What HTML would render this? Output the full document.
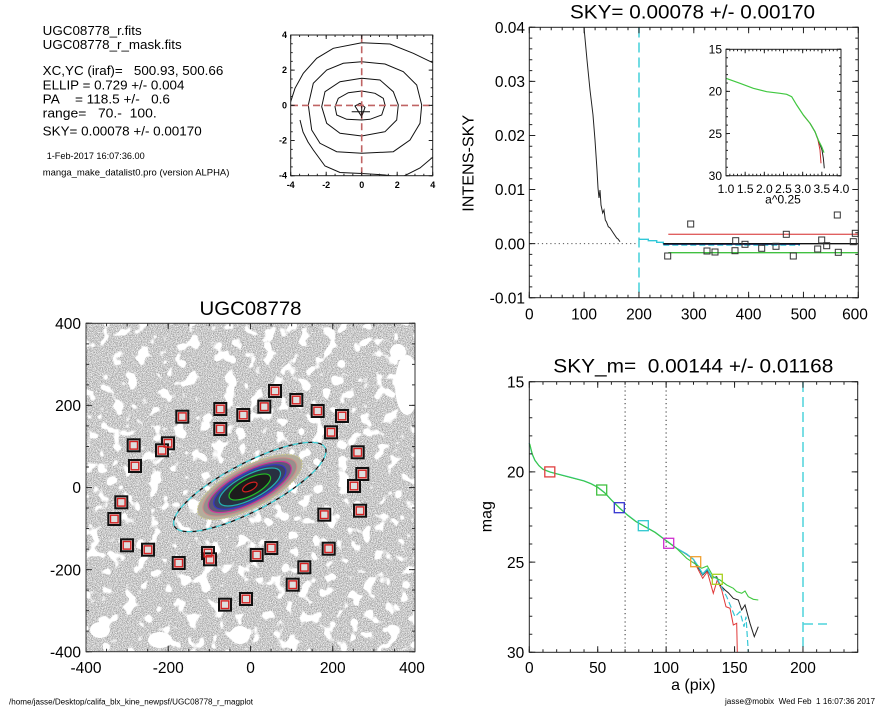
<!DOCTYPE html>
<html><head><meta charset="utf-8"><style>
html,body{margin:0;padding:0;background:#fff;}
svg{display:block;}
text{font-family:"Liberation Sans",Arial,sans-serif;fill:#000;}
</style></head><body>
<svg width="885" height="708" viewBox="0 0 885 708" xmlns="http://www.w3.org/2000/svg">
<defs>
<filter id="tex" x="0" y="0" width="1" height="1" color-interpolation-filters="sRGB">
<feTurbulence type="fractalNoise" baseFrequency="1.2" numOctaves="1" seed="4" result="fine"/>
<feColorMatrix in="fine" type="matrix" values="1.0 0 0 0 0.29  1.0 0 0 0 0.29  1.0 0 0 0 0.29  0 0 0 0 1" result="grey"/>
<feTurbulence type="fractalNoise" baseFrequency="0.08" numOctaves="2" seed="9" result="low"/>
<feColorMatrix in="low" type="matrix" values="0 0 0 0 1  0 0 0 0 1  0 0 0 0 1  14 0 0 0 -8.1" result="blobs"/>
<feComposite in="blobs" in2="grey" operator="over"/>
</filter>
<clipPath id="cbox"><rect x="290.7" y="35" width="142" height="140.7"/></clipPath>
<clipPath id="ibox"><rect x="86" y="323.3" width="329" height="328.4"/></clipPath>
</defs>
<rect width="885" height="708" fill="#fff"/>

<!-- ===== Top-left text ===== -->
<g font-size="13">
<text x="42.7" y="35" textLength="99" lengthAdjust="spacingAndGlyphs">UGC08778_r.fits</text>
<text x="42.7" y="49" textLength="139" lengthAdjust="spacingAndGlyphs">UGC08778_r_mask.fits</text>
<text x="42.7" y="75" textLength="180.6" lengthAdjust="spacingAndGlyphs">XC,YC (iraf)=&#160;&#160; 500.93, 500.66</text>
<text x="42.7" y="89.3" textLength="141.7" lengthAdjust="spacingAndGlyphs">ELLIP = 0.729 +/- 0.004</text>
<text x="42.7" y="103.7" textLength="127.3" lengthAdjust="spacingAndGlyphs">PA&#160;&#160;&#160; = 118.5 +/-&#160;&#160; 0.6</text>
<text x="42.7" y="117.7" textLength="114" lengthAdjust="spacingAndGlyphs">range=&#160;&#160; 70.-&#160; 100.</text>
<text x="42.7" y="135.5" textLength="159" lengthAdjust="spacingAndGlyphs">SKY= 0.00078 +/- 0.00170</text>
</g>
<text x="46.7" y="159" font-size="9.5" textLength="98" lengthAdjust="spacingAndGlyphs">1-Feb-2017 16:07:36.00</text>
<text x="42.7" y="175.5" font-size="9.5" textLength="186.7" lengthAdjust="spacingAndGlyphs">manga_make_datalist0.pro (version ALPHA)</text>

<!-- ===== Contour plot ===== -->
<g clip-path="url(#cbox)" fill="none" stroke="#111" stroke-width="1">
<path d="M432.7,62.7 L413.3,53.3 L390,44 L361.7,42.7 L333.3,48.3 L316.7,58.3 L303.3,73.3 L295,88.3 L290.7,101.7"/>
<path d="M300,120 L303,132 L308,142 L313.3,150 L325,166 L340,172.5 L361.7,173.5 L385,175 L395,176.5"/>
<path d="M403,176.5 L420,168 L433,157"/>
<path d="M361.7,61.7 L385,64 L403.3,71.7 L416.7,85 L421.7,105 L420,123.3 L410,140 L393.3,151.7 L361.7,153.3 L336.7,151.7 L320,143.3 L311.7,130 L308.3,105 L313.3,83.3 L326.7,70 L343.3,63.3 Z"/>
<path d="M361.7,78.3 L380,80 L393.3,91.7 L398.3,105 L396.7,120 L385,131.7 L361.7,136 L340,133.3 L326.7,123.3 L321.7,106.7 L325,91.7 L340,81.7 Z"/>
<path d="M361.7,91 L375,93.3 L383.3,98.3 L385,105 L381.7,115 L370,119.3 L361.7,120 L346.7,119.3 L336.7,115 L335,106.7 L338.3,98.3 L348.3,92.7 Z"/>
<path d="M355,106 L360,103.3 L365,107.3 L361.7,116.7 Z"/>
</g>
<g stroke="#c06464" stroke-width="1.6" stroke-dasharray="7 4" fill="none">
<line x1="291" y1="105.4" x2="432.5" y2="105.4"/>
<line x1="361.7" y1="35.2" x2="361.7" y2="175.5"/>
</g>
<g stroke="#111" stroke-width="1">
<line x1="351.7" y1="111.7" x2="370" y2="111.7"/>
<line x1="361.7" y1="106" x2="361.7" y2="118"/>
</g>
<rect x="290.7" y="35" width="142" height="140.7" fill="none" stroke="#222" stroke-width="1"/>
<g stroke="#222">
<line x1="290.2" y1="174.7" x2="433.2" y2="174.7" stroke-width="2" stroke-dasharray="1 7.875"/>
<line x1="290.2" y1="173.7" x2="433.2" y2="173.7" stroke-width="4" stroke-dasharray="1 34.5"/>
<line x1="290.2" y1="36" x2="433.2" y2="36" stroke-width="2" stroke-dasharray="1 7.875"/>
<line x1="290.2" y1="37" x2="433.2" y2="37" stroke-width="4" stroke-dasharray="1 34.5"/>
<line x1="291.7" y1="34.5" x2="291.7" y2="176.2" stroke-width="2" stroke-dasharray="1 7.794"/>
<line x1="292.7" y1="34.5" x2="292.7" y2="176.2" stroke-width="4" stroke-dasharray="1 34.175"/>
<line x1="431.7" y1="34.5" x2="431.7" y2="176.2" stroke-width="2" stroke-dasharray="1 7.794"/>
<line x1="430.7" y1="34.5" x2="430.7" y2="176.2" stroke-width="4" stroke-dasharray="1 34.175"/>
</g>
<g font-size="9" font-weight="bold" text-anchor="end">
<text x="287" y="38">4</text>
<text x="287" y="73.2">2</text>
<text x="287" y="108.4">0</text>
<text x="287" y="143.5">-2</text>
<text x="287" y="178.7">-4</text>
</g>
<g font-size="9" font-weight="bold" text-anchor="middle">
<text x="290.7" y="188">-4</text>
<text x="326.2" y="188">-2</text>
<text x="361.7" y="188">0</text>
<text x="397.2" y="188">2</text>
<text x="432.7" y="188">4</text>
</g>

<!-- ===== Top-right plot ===== -->
<text x="692.5" y="18.5" font-size="19.5" text-anchor="middle" textLength="245" lengthAdjust="spacingAndGlyphs">SKY= 0.00078 +/- 0.00170</text>
<text transform="translate(473.5,163.3) rotate(-90)" font-size="16" text-anchor="middle" textLength="97" lengthAdjust="spacingAndGlyphs">INTENS-SKY</text>
<g font-size="15.5" text-anchor="end">
<text x="525" y="33">0.04</text>
<text x="525" y="87.1">0.03</text>
<text x="525" y="141.2">0.02</text>
<text x="525" y="195.2">0.01</text>
<text x="525" y="249.3">0.00</text>
<text x="525" y="303.4">-0.01</text>
</g>
<g font-size="15.5" text-anchor="middle">
<text x="529.3" y="319.5">0</text>
<text x="584.1" y="319.5">100</text>
<text x="639" y="319.5">200</text>
<text x="693.8" y="319.5">300</text>
<text x="748.6" y="319.5">400</text>
<text x="803.5" y="319.5">500</text>
<text x="855" y="319.5">600</text>
</g>
<!-- data -->
<line x1="529.3" y1="243.6" x2="639" y2="243.6" stroke="#555" stroke-width="1" stroke-dasharray="1.2 3"/>
<line x1="639" y1="27.5" x2="639" y2="297.5" stroke="#4fd3dc" stroke-width="1.6" stroke-dasharray="10 5"/>
<polyline fill="none" stroke="#222" stroke-width="1" points="584,27.5 587,60 590,90 593,115 595,140 597,170 598,188 599,198 600,190 601,205 602.7,213 604,210 605.3,220 606.5,222 608.3,226.7 610,228 612,231 613.3,233 616.7,238 618,239 620,241.7"/>
<polyline fill="none" stroke="#30c8d8" stroke-width="1.4" points="639,239.3 648.3,239.3 648.3,240.7 656.7,240.7 656.7,242.3 663.3,242.3 663.3,244.3"/>
<line x1="663.3" y1="245" x2="800" y2="245" stroke="#30c8d8" stroke-width="1.4" stroke-dasharray="6 3"/>
<line x1="663.3" y1="244.3" x2="800" y2="244.3" stroke="#202880" stroke-width="1.2"/>
<line x1="663.3" y1="243.7" x2="858.3" y2="243.7" stroke="#111" stroke-width="1.3"/>
<line x1="668.3" y1="234.3" x2="858.3" y2="234.3" stroke="#e06060" stroke-width="1.4"/>
<line x1="668.3" y1="252.7" x2="858.3" y2="252.7" stroke="#40c040" stroke-width="1.4"/>
<g fill="none" stroke="#333" stroke-width="1">
<rect x="664.7" y="253" width="6" height="6"/>
<rect x="687.7" y="221" width="6" height="6"/>
<rect x="704" y="248" width="6" height="6"/>
<rect x="712" y="249" width="6" height="6"/>
<rect x="732.7" y="237.7" width="6" height="6"/>
<rect x="732" y="247.7" width="6" height="6"/>
<rect x="742" y="241.3" width="6" height="6"/>
<rect x="758.7" y="245.3" width="6" height="6"/>
<rect x="773" y="243.3" width="6" height="6"/>
<rect x="783.3" y="231.3" width="6" height="6"/>
<rect x="790.3" y="253" width="6" height="6"/>
<rect x="814.7" y="246" width="6" height="6"/>
<rect x="818.7" y="237" width="6" height="6"/>
<rect x="823.7" y="242.7" width="6" height="6"/>
<rect x="834.3" y="212" width="6" height="6"/>
<rect x="835.3" y="249.3" width="6" height="6"/>
<rect x="850.3" y="238.7" width="6" height="6"/>
<rect x="852.3" y="230.3" width="6" height="6"/>
</g>
<rect x="529.3" y="27.3" width="329" height="270.4" fill="none" stroke="#222" stroke-width="1"/>
<g stroke="#222">
<line x1="528.8" y1="296.2" x2="859" y2="296.2" stroke-width="3" stroke-dasharray="1 9.967"/>
<line x1="528.8" y1="294.7" x2="859" y2="294.7" stroke-width="6" stroke-dasharray="1 53.83"/>
<line x1="528.8" y1="28.8" x2="859" y2="28.8" stroke-width="3" stroke-dasharray="1 9.967"/>
<line x1="528.8" y1="30.3" x2="859" y2="30.3" stroke-width="6" stroke-dasharray="1 53.83"/>
<line x1="530.8" y1="26.8" x2="530.8" y2="298.2" stroke-width="3" stroke-dasharray="1 9.816"/>
<line x1="532.3" y1="26.8" x2="532.3" y2="298.2" stroke-width="6" stroke-dasharray="1 53.08"/>
<line x1="856.8" y1="26.8" x2="856.8" y2="298.2" stroke-width="3" stroke-dasharray="1 9.816"/>
<line x1="855.3" y1="26.8" x2="855.3" y2="298.2" stroke-width="6" stroke-dasharray="1 53.08"/>
</g>
<!-- inset -->
<rect x="726" y="49.3" width="115" height="126.4" fill="#fff" stroke="none"/>
<polyline fill="none" stroke="#d03030" stroke-width="1" points="803.3,115 810,123.3 815,131.7 818,140 820,150 821,163.3"/>
<polyline fill="none" stroke="#222" stroke-width="1" points="810,123.3 815,131.7 819,142 822,150 823.3,158 824.3,168.3"/>
<polyline fill="none" stroke="#40c840" stroke-width="1.2" points="726,78.3 740,83.3 753.3,88.3 766.7,91.7 780,93.3 786.7,94.3 791.7,96.7 796.7,105 803.3,115 810,123.3 815,131.7 818.3,140 821.7,146.7 824,152.7"/>
<rect x="726" y="49.3" width="115" height="126.4" fill="none" stroke="#222" stroke-width="1"/>
<g stroke="#222">
<line x1="725.5" y1="174.7" x2="841.5" y2="174.7" stroke-width="2" stroke-dasharray="1 2.833"/>
<line x1="725.5" y1="173.7" x2="841.5" y2="173.7" stroke-width="4" stroke-dasharray="1 18.167"/>
<line x1="725.5" y1="50.3" x2="841.5" y2="50.3" stroke-width="2" stroke-dasharray="1 2.833"/>
<line x1="725.5" y1="51.3" x2="841.5" y2="51.3" stroke-width="4" stroke-dasharray="1 18.167"/>
<line x1="727" y1="48.8" x2="727" y2="176.2" stroke-width="2" stroke-dasharray="1 7.427"/>
<line x1="728" y1="48.8" x2="728" y2="176.2" stroke-width="4" stroke-dasharray="1 41.13"/>
<line x1="840" y1="48.8" x2="840" y2="176.2" stroke-width="2" stroke-dasharray="1 7.427"/>
<line x1="839" y1="48.8" x2="839" y2="176.2" stroke-width="4" stroke-dasharray="1 41.13"/>
</g>
<g font-size="12" text-anchor="end">
<text x="722" y="53.6">15</text>
<text x="722" y="95.7">20</text>
<text x="722" y="137.8">25</text>
<text x="722" y="180">30</text>
</g>
<g font-size="12" text-anchor="middle">
<text x="726" y="193">1.0</text>
<text x="745.2" y="193">1.5</text>
<text x="764.3" y="193">2.0</text>
<text x="783.5" y="193">2.5</text>
<text x="802.7" y="193">3.0</text>
<text x="821.8" y="193">3.5</text>
<text x="841" y="193">4.0</text>
<text x="783" y="203.5">a^0.25</text>
</g>

<!-- ===== Bottom-left image ===== -->
<text x="250.5" y="315" font-size="19.5" text-anchor="middle" textLength="102" lengthAdjust="spacingAndGlyphs">UGC08778</text>
<rect x="86" y="323.3" width="329" height="328.4" fill="#bbb" filter="url(#tex)"/>
<g clip-path="url(#ibox)" fill="#fff">
<ellipse cx="407" cy="385" rx="12" ry="30"/>
<ellipse cx="398" cy="352" rx="8" ry="8"/>
<ellipse cx="100" cy="630" rx="10" ry="8"/>
<ellipse cx="160" cy="640" rx="12" ry="8"/>
<ellipse cx="240" cy="635" rx="10" ry="9"/>
</g>
<!-- galaxy -->
<g transform="translate(249.8,487) rotate(-27.5)">
<ellipse cx="0" cy="0" rx="58" ry="21" fill="#b4ad9c" stroke="#cfcf8a" stroke-width="1" stroke-dasharray="1.5 1.5"/>
<ellipse cx="0" cy="0" rx="52" ry="18.5" fill="#978f8c" stroke="#d08a8a" stroke-width="1"/>
<ellipse cx="0" cy="0" rx="46" ry="16" fill="#5e5878" stroke="#d03898" stroke-width="1.2"/>
<ellipse cx="0" cy="0" rx="40" ry="14" fill="#3a4266" stroke="#3535c8" stroke-width="1.2"/>
<ellipse cx="0" cy="0" rx="34" ry="12" fill="#283040" stroke="#22b0b0" stroke-width="1.2"/>
<ellipse cx="0" cy="0" rx="23" ry="8.5" fill="#1c1c1c" stroke="#25c025" stroke-width="1.2"/>
<ellipse cx="0" cy="0" rx="8" ry="3.6" fill="#101010" stroke="#d02020" stroke-width="1.2"/>
<ellipse cx="0" cy="0" rx="85" ry="24" fill="none" stroke="#111" stroke-width="1.3" stroke-dasharray="6 4"/>
<ellipse cx="0" cy="0" rx="85" ry="24" fill="none" stroke="#40d0d8" stroke-width="1.3" stroke-dasharray="6 4" stroke-dashoffset="5"/>
</g>
<!-- squares -->
<g>
<g fill="#dedede" stroke="#111" stroke-width="2">
<rect x="269" y="385" width="12" height="12"/>
<rect x="290.3" y="394" width="12" height="12"/>
<rect x="258.3" y="400.7" width="12" height="12"/>
<rect x="214.3" y="403" width="12" height="12"/>
<rect x="237.3" y="409" width="12" height="12"/>
<rect x="176.3" y="410.7" width="12" height="12"/>
<rect x="311.7" y="405" width="12" height="12"/>
<rect x="336" y="410" width="12" height="12"/>
<rect x="214.3" y="423" width="12" height="12"/>
<rect x="325" y="426.3" width="12" height="12"/>
<rect x="127.7" y="439.3" width="12" height="12"/>
<rect x="162" y="437.3" width="12" height="12"/>
<rect x="156" y="444.3" width="12" height="12"/>
<rect x="129" y="460" width="12" height="12"/>
<rect x="351.7" y="446.3" width="12" height="12"/>
<rect x="356.3" y="468" width="12" height="12"/>
<rect x="348" y="480" width="12" height="12"/>
<rect x="115.3" y="496.3" width="12" height="12"/>
<rect x="108.3" y="513" width="12" height="12"/>
<rect x="354" y="504.7" width="12" height="12"/>
<rect x="318.3" y="508.7" width="12" height="12"/>
<rect x="121" y="539.3" width="12" height="12"/>
<rect x="142" y="543.7" width="12" height="12"/>
<rect x="172.7" y="557" width="12" height="12"/>
<rect x="202" y="547" width="12" height="12"/>
<rect x="204" y="553.3" width="12" height="12"/>
<rect x="250.7" y="549" width="12" height="12"/>
<rect x="265.3" y="542" width="12" height="12"/>
<rect x="322.7" y="542.7" width="12" height="12"/>
<rect x="298.3" y="561.3" width="12" height="12"/>
<rect x="286.7" y="578.7" width="12" height="12"/>
<rect x="240" y="593" width="12" height="12"/>
<rect x="219" y="598.7" width="12" height="12"/>
</g>
<g fill="none" stroke="#d42020" stroke-width="1.4">
<rect x="271.2" y="387.2" width="7.6" height="7.6"/>
<rect x="292.5" y="396.2" width="7.6" height="7.6"/>
<rect x="260.5" y="402.9" width="7.6" height="7.6"/>
<rect x="216.5" y="405.2" width="7.6" height="7.6"/>
<rect x="239.5" y="411.2" width="7.6" height="7.6"/>
<rect x="178.5" y="412.9" width="7.6" height="7.6"/>
<rect x="313.9" y="407.2" width="7.6" height="7.6"/>
<rect x="338.2" y="412.2" width="7.6" height="7.6"/>
<rect x="216.5" y="425.2" width="7.6" height="7.6"/>
<rect x="327.2" y="428.5" width="7.6" height="7.6"/>
<rect x="129.9" y="441.5" width="7.6" height="7.6"/>
<rect x="164.2" y="439.5" width="7.6" height="7.6"/>
<rect x="158.2" y="446.5" width="7.6" height="7.6"/>
<rect x="131.2" y="462.2" width="7.6" height="7.6"/>
<rect x="353.9" y="448.5" width="7.6" height="7.6"/>
<rect x="358.5" y="470.2" width="7.6" height="7.6"/>
<rect x="350.2" y="482.2" width="7.6" height="7.6"/>
<rect x="117.5" y="498.5" width="7.6" height="7.6"/>
<rect x="110.5" y="515.2" width="7.6" height="7.6"/>
<rect x="356.2" y="506.9" width="7.6" height="7.6"/>
<rect x="320.5" y="510.9" width="7.6" height="7.6"/>
<rect x="123.2" y="541.5" width="7.6" height="7.6"/>
<rect x="144.2" y="545.9" width="7.6" height="7.6"/>
<rect x="174.9" y="559.2" width="7.6" height="7.6"/>
<rect x="204.2" y="549.2" width="7.6" height="7.6"/>
<rect x="206.2" y="555.5" width="7.6" height="7.6"/>
<rect x="252.9" y="551.2" width="7.6" height="7.6"/>
<rect x="267.5" y="544.2" width="7.6" height="7.6"/>
<rect x="324.9" y="544.9" width="7.6" height="7.6"/>
<rect x="300.5" y="563.5" width="7.6" height="7.6"/>
<rect x="288.9" y="580.9" width="7.6" height="7.6"/>
<rect x="242.2" y="595.2" width="7.6" height="7.6"/>
<rect x="221.2" y="600.9" width="7.6" height="7.6"/>
</g>
</g>
<rect x="86" y="323.3" width="329" height="328.4" fill="none" stroke="#333" stroke-width="1"/>
<g stroke="#333">
<line x1="85.5" y1="650.2" x2="415.5" y2="650.2" stroke-width="3" stroke-dasharray="1 19.5625"/>
<line x1="85.5" y1="648.7" x2="415.5" y2="648.7" stroke-width="6" stroke-dasharray="1 81.25"/>
<line x1="85.5" y1="324.8" x2="415.5" y2="324.8" stroke-width="3" stroke-dasharray="1 19.5625"/>
<line x1="85.5" y1="326.3" x2="415.5" y2="326.3" stroke-width="6" stroke-dasharray="1 81.25"/>
<line x1="87.5" y1="322.8" x2="87.5" y2="652.2" stroke-width="3" stroke-dasharray="1 19.525"/>
<line x1="89" y1="322.8" x2="89" y2="652.2" stroke-width="6" stroke-dasharray="1 81.1"/>
<line x1="413.5" y1="322.8" x2="413.5" y2="652.2" stroke-width="3" stroke-dasharray="1 19.525"/>
<line x1="412" y1="322.8" x2="412" y2="652.2" stroke-width="6" stroke-dasharray="1 81.1"/>
</g>
<g font-size="15.5" text-anchor="end">
<text x="81" y="329">400</text>
<text x="81" y="411.1">200</text>
<text x="81" y="493.2">0</text>
<text x="81" y="575.3">-200</text>
<text x="81" y="657.4">-400</text>
</g>
<g font-size="15.5" text-anchor="middle">
<text x="86" y="673">-400</text>
<text x="168.25" y="673">-200</text>
<text x="250.5" y="673">0</text>
<text x="332.75" y="673">200</text>
<text x="412" y="673">400</text>
</g>

<!-- ===== Bottom-right plot ===== -->
<text x="693.3" y="372.5" font-size="19.5" text-anchor="middle" textLength="280" lengthAdjust="spacingAndGlyphs">SKY_m=&#160; 0.00144 +/- 0.01168</text>
<text transform="translate(491.5,516.7) rotate(-90)" font-size="16" text-anchor="middle">mag</text>
<text x="693.3" y="690" font-size="16" text-anchor="middle">a (pix)</text>
<g font-size="15.5" text-anchor="end">
<text x="524.3" y="387.4">15</text>
<text x="524.3" y="477.6">20</text>
<text x="524.3" y="567.8">25</text>
<text x="524.3" y="658">30</text>
</g>
<g font-size="15.5" text-anchor="middle">
<text x="529.3" y="673">0</text>
<text x="597.7" y="673">50</text>
<text x="666.1" y="673">100</text>
<text x="734.6" y="673">150</text>
<text x="803" y="673">200</text>
</g>
<line x1="625.1" y1="382" x2="625.1" y2="652" stroke="#333" stroke-width="1" stroke-dasharray="1.2 3"/>
<line x1="666.1" y1="382" x2="666.1" y2="652" stroke="#333" stroke-width="1" stroke-dasharray="1.2 3"/>
<line x1="803" y1="382" x2="803" y2="652" stroke="#4fd3dc" stroke-width="1.5" stroke-dasharray="10 5"/>
<line x1="803" y1="624" x2="827" y2="624" stroke="#4fd3dc" stroke-width="1.5" stroke-dasharray="10 5"/>
<polyline fill="none" stroke="#e03838" stroke-width="1" points="666.1,540.5 677.1,548.6 686.7,554 693.5,559.4 696.7,566.7 702.7,578.3 707.3,571.7 713.3,593.3 717.3,580 721.7,590 726,606.7 730,608.3 733.3,625 736.7,623.3 737.3,652.3"/>
<polyline fill="none" stroke="#222" stroke-width="1" points="666.1,540.5 677.1,548.6 686.7,554.5 693.5,559.4 696.7,565 702.7,575 707.3,570 711.7,578.3 716.7,576.7 720,585 725,590 728.3,592.7 733.3,598.3 738.3,600 741.7,610 745,605 750,623.3 754.3,636.7 758.3,626.7"/>
<polyline fill="none" stroke="#35c8d6" stroke-width="1.2" stroke-dasharray="6 3" points="716.7,578 726.7,596.7 735,616.7 740,611.7 744,626.7 746,616.7 748.3,652"/>
<polyline fill="none" stroke="#35c8d6" stroke-width="1.3" points="529.3,443 530.7,448.4 532,453.9 534.8,460.2 538.9,465.6 543,469.2 549.8,471.9 556.7,473.7 570.4,477.3 584,480.9 590.9,483.6 597.7,487.2 604.6,492.6 611.4,499.9 619.6,508 627.8,515.2 636,521.5 645.6,526.9 655.2,532.3 666.1,540.5 677.1,548.6 686.7,554 693.5,559.4 699,567.5 702.7,574 707.3,569 711.7,577 716.7,578"/>
<polyline fill="none" stroke="#40c840" stroke-width="1.1" points="529.8,444 531,449 532.5,454.5 535,460.5 539,465.8 543,469.4 549.8,472 556.7,473.9 570.4,477.5 584,481 590.9,483.8 597.7,487.4 604.6,492.8 611.4,500 619.6,508.2 627.8,515.4 636,521.7 645.6,527 655.2,532.5 666.1,540.7 677.1,548.8 686.7,558.3 701.7,568.3 707.3,566 713.3,576.7 720,580 726.7,585 733.3,588.3 736.7,591.7 741.7,593.3 745,591 748.3,596.7 753.3,599.3 758.3,600"/>
<g fill="none" stroke-width="1.3">
<rect x="544.8" y="466.9" width="10" height="10" stroke="#e04040"/>
<rect x="596.7" y="485" width="10" height="10" stroke="#40c040"/>
<rect x="614.3" y="502.7" width="10" height="10" stroke="#3535d0"/>
<rect x="638.3" y="520.7" width="10" height="10" stroke="#30c8d0"/>
<rect x="663.7" y="538.3" width="10" height="10" stroke="#d030d0"/>
<rect x="690.7" y="556.7" width="10" height="10" stroke="#f0a030"/>
<rect x="712.3" y="574.3" width="10" height="10" stroke="#a8d020"/>
</g>
<rect x="529.3" y="381.7" width="328.4" height="270.6" fill="none" stroke="#222" stroke-width="1"/>
<g stroke="#222">
<line x1="528.8" y1="650.8" x2="858.2" y2="650.8" stroke-width="3" stroke-dasharray="1 12.683"/>
<line x1="528.8" y1="649.3" x2="858.2" y2="649.3" stroke-width="6" stroke-dasharray="1 67.42"/>
<line x1="528.8" y1="383.2" x2="858.2" y2="383.2" stroke-width="3" stroke-dasharray="1 12.683"/>
<line x1="528.8" y1="384.7" x2="858.2" y2="384.7" stroke-width="6" stroke-dasharray="1 67.42"/>
<line x1="530.8" y1="381.2" x2="530.8" y2="652.8" stroke-width="3" stroke-dasharray="1 17.04"/>
<line x1="532.3" y1="381.2" x2="532.3" y2="652.8" stroke-width="6" stroke-dasharray="1 89.2"/>
<line x1="856.2" y1="381.2" x2="856.2" y2="652.8" stroke-width="3" stroke-dasharray="1 17.04"/>
<line x1="854.7" y1="381.2" x2="854.7" y2="652.8" stroke-width="6" stroke-dasharray="1 89.2"/>
</g>

<!-- ===== Footer ===== -->
<text x="9" y="704.5" font-size="8" textLength="244" lengthAdjust="spacingAndGlyphs">/home/jasse/Desktop/califa_blx_kine_newpsf/UGC08778_r_magplot</text>
<text x="725" y="704" font-size="8" textLength="150" lengthAdjust="spacingAndGlyphs">jasse@mobix&#160; Wed Feb&#160; 1 16:07:36 2017</text>
</svg>
</body></html>
